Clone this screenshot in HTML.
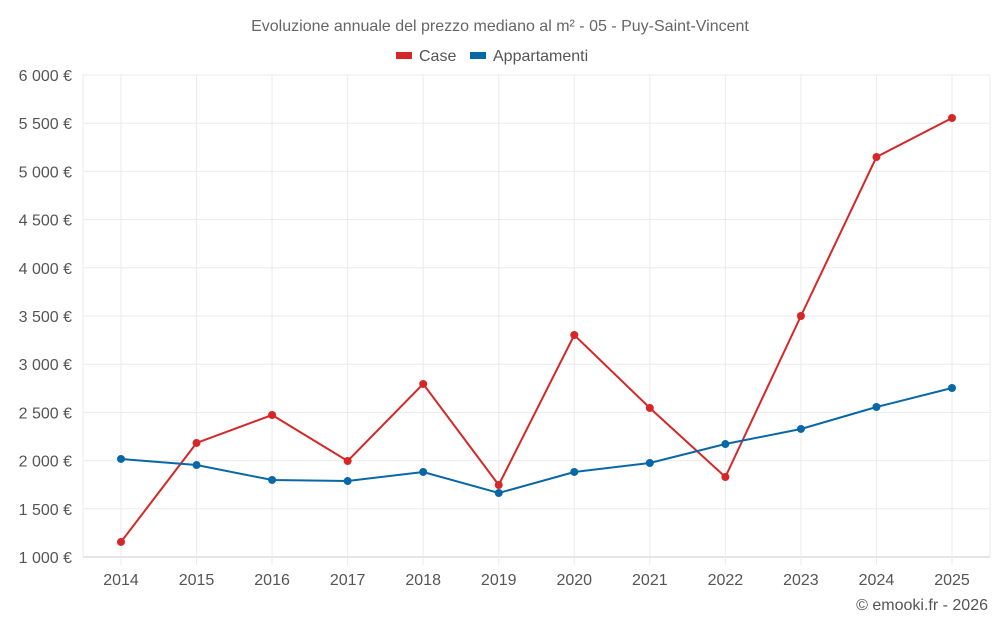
<!DOCTYPE html>
<html><head><meta charset="utf-8"><style>
body{margin:0;background:#fff;font-family:"Liberation Sans",sans-serif;}
svg text{font-family:"Liberation Sans",sans-serif;}
</style></head><body>
<svg id="chart" width="1000" height="625">
<text x="500" y="31" text-anchor="middle" font-size="16" fill="#666">Evoluzione annuale del prezzo mediano al m² - 05 - Puy-Saint-Vincent</text>
<g>
<g><rect x="396" y="52" width="16" height="7" fill="#d62728"/><text x="419" y="61" font-size="16" fill="#555">Case</text></g>
<g><rect x="470" y="52" width="16" height="7" fill="#0868a6"/><text x="493" y="61" font-size="16" fill="#555">Appartamenti</text></g>
</g>
<g id="grid"></g><g id="axes"></g><g id="series"></g>
<text x="988" y="610" text-anchor="end" font-size="16" fill="#555">© emooki.fr - 2026</text>
</svg>
<script>
const years=[2014,2015,2016,2017,2018,2019,2020,2021,2022,2023,2024,2025];
const caseValues=[1156,2183,2473,1996,2795,1747,3303,2546,1830,3500,5149,5554];
const apptValues=[2017,1954,1799,1788,1882,1664,1882,1975,2172,2328,2556,2753];
const yTicks=[1000,1500,2000,2500,3000,3500,4000,4500,5000,5500,6000];
const yTickLabels=["1 000 €","1 500 €","2 000 €","2 500 €","3 000 €","3 500 €","4 000 €","4 500 €","5 000 €","5 500 €","6 000 €"];
const NS="http://www.w3.org/2000/svg";
const L=83,R=990,T=75,B=557,x0=121,x1=952;
const xs=i=>x0+(x1-x0)*i/(years.length-1);
const ys=v=>B-(v-1000)/5000*(B-T);
function mk(tag,attrs,parent){const e=document.createElementNS(NS,tag);for(const k in attrs)e.setAttribute(k,attrs[k]);document.getElementById(parent).appendChild(e);return e;}
yTicks.forEach((v,i)=>{
 const g=mk('line',{x1:L,x2:R,y1:ys(v),y2:ys(v),stroke:i==0?'#ccc':'#ebebeb','stroke-width':1},'grid');
 
 
 const t=mk('text',{x:72,y:ys(v)+6,'text-anchor':'end','font-size':16,fill:'#555'},'axes');
 t.textContent=yTickLabels[i];
 
 
});
years.forEach((y,i)=>{
 const g=mk('line',{x1:xs(i),x2:xs(i),y1:T,y2:B+8,stroke:'#ebebeb'},'grid');
 
 
 const t=mk('text',{x:xs(i),y:585,'text-anchor':'middle','font-size':16,fill:'#555'},'axes');
 t.textContent=y;
 
 
});
[[L,T,L,B],[R,T,R,B]].forEach(a=>{const l=mk('line',{x1:a[0],y1:a[1],x2:a[2],y2:a[3],stroke:'#ebebeb'},'grid');});
function series(vals,color,name){
 const p=mk('polyline',{points:vals.map((v,i)=>xs(i)+','+ys(v)).join(' '),fill:'none',stroke:color,'stroke-width':2},'series');
 
 
 vals.forEach((v,i)=>{const c=mk('circle',{cx:xs(i),cy:ys(v),r:4,fill:color},'series');
 
 });
}
series(caseValues,'#d62728','case');
series(apptValues,'#0868a6','appartamenti');
</script>
</body></html>
